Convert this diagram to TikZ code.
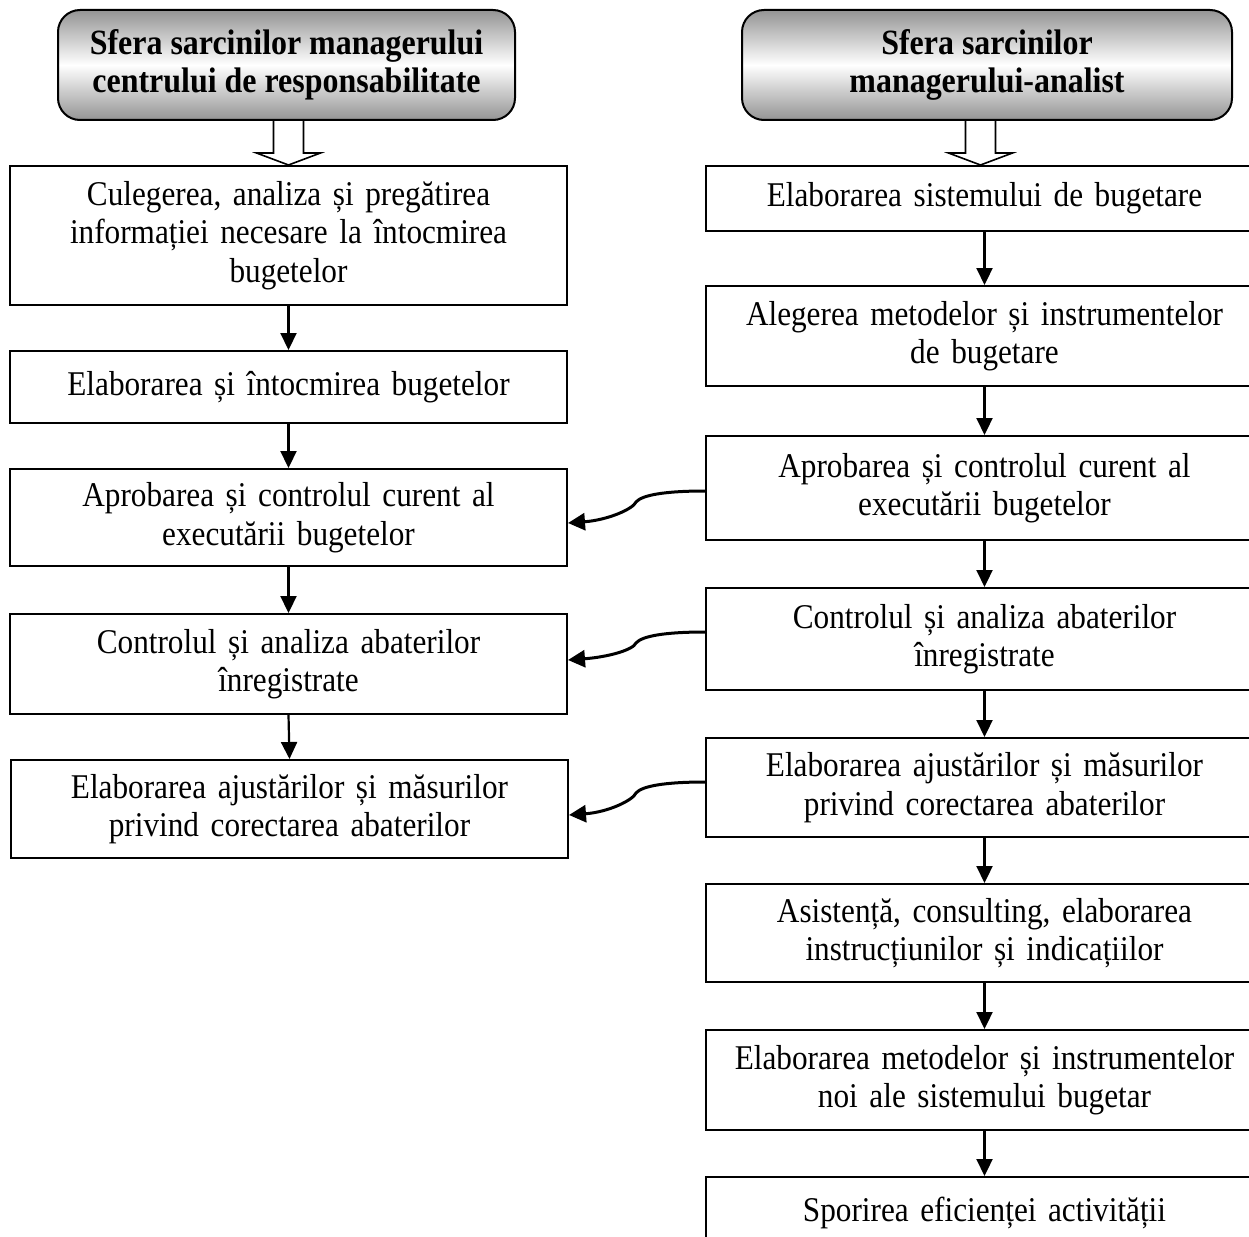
\documentclass[tikz,border=0pt]{standalone}
\usepackage{fontspec}
\setmainfont{Liberation Serif}[FakeStretch=0.9]
\usetikzlibrary{arrows.meta,calc}
\begin{document}
\begin{tikzpicture}[x=1pt,y=-1pt,
  box/.style={draw, line width=2pt, minimum width=557pt, text width=545pt,
    align=center, inner sep=0pt, font=\fontsize{34.7}{38.5}\selectfont},
  head/.style={draw, line width=2pt, rounded corners=22pt,
    top color=black!42, bottom color=black!42, middle color=white,
    align=center, inner sep=0pt, font=\fontsize{35.5}{37.5}\selectfont\bfseries},
  flow/.style={line width=2.2pt, -{Triangle[length=17pt,width=16pt]}},
  side/.style={line width=3pt, -{Triangle[length=17pt,width=17pt]}},
  hollow/.style={draw, line width=1.6pt, fill=white}]
\useasboundingbox (0,0) rectangle (1249,1236);

% left column
\node[box, minimum height=139pt] (L1) at (288.5,235.5)
  {Culegerea, analiza și pregătirea\\informației necesare la întocmirea\\bugetelor};
\node[box, minimum height=72pt] (L2) at (288.5,387)
  {Elaborarea și întocmirea bugetelor};
\node[box, minimum height=97pt] (L3) at (288.5,517.5)
  {Aprobarea și controlul curent al\\executării bugetelor};
\node[box, minimum height=100pt] (L4) at (288.5,664)
  {Controlul și analiza abaterilor\\înregistrate};
\node[box, minimum height=98pt] (L5) at (289.5,809)
  {Elaborarea ajustărilor și măsurilor\\privind corectarea abaterilor};

% right column
\node[box, minimum height=65pt] (R1) at (984.5,198.5)
  {Elaborarea sistemului de bugetare};
\node[box, minimum height=100pt] (R2) at (984.5,336)
  {Alegerea metodelor și instrumentelor\\de bugetare};
\node[box, minimum height=104pt] (R3) at (984.5,488)
  {Aprobarea și controlul curent al\\executării bugetelor};
\node[box, minimum height=102pt] (R4) at (984.5,639)
  {Controlul și analiza abaterilor\\înregistrate};
\node[box, minimum height=99pt] (R5) at (984.5,787.5)
  {Elaborarea ajustărilor și măsurilor\\privind corectarea abaterilor};
\node[box, minimum height=98pt] (R6) at (984.5,933)
  {Asistență, consulting, elaborarea\\instrucțiunilor și indicațiilor};
\node[box, minimum height=100pt] (R7) at (984.5,1080)
  {Elaborarea metodelor și instrumentelor\\noi ale sistemului bugetar};
\node[box, minimum height=72pt] (R8) at (984.5,1213)
  {Sporirea eficienței activității};

% hollow arrows from the headers
\coordinate (tl) at (L1.north);
\coordinate (tr) at ($(R1.north)+(-4,0)$);
\coordinate (hlb) at (286.5,120);
\coordinate (hrb) at (987,120);
\draw[hollow] ($(hlb -| tl)+(-15,0)$) -- ($(tl)+(-15,-12)$) -- ($(tl)+(-32,-12)$)
  -- (tl) -- ($(tl)+(32,-12)$) -- ($(tl)+(15,-12)$) -- ($(hlb -| tl)+(15,0)$);
\draw[hollow] ($(hrb -| tr)+(-15,0)$) -- ($(tr)+(-15,-12)$) -- ($(tr)+(-32,-12)$)
  -- (tr) -- ($(tr)+(32,-12)$) -- ($(tr)+(15,-12)$) -- ($(hrb -| tr)+(15,0)$);

% headers
\node[head, minimum width=457pt, minimum height=110pt] (HL) at (286.5,65)
  {Sfera sarcinilor managerului\\centrului de responsabilitate};
\node[head, minimum width=490pt, minimum height=110pt] (HR) at (987,65)
  {Sfera sarcinilor\\managerului-analist};

% vertical flow
\foreach \a/\b in {L1/L2,L2/L3,L3/L4,L4/L5,R1/R2,R2/R3,R3/R4,R4/R5,R5/R6,R6/R7,R7/R8}
  \draw[flow] (\a.south) -- (\b.north);

% links from the right column to the left one
\coordinate (s1) at ($(R3.west)+(0,3)$);
\coordinate (e1) at ($(L3.east)+(0,5.5)$);
\coordinate (s2) at ($(R4.west)+(0,-7)$);
\coordinate (e2) at ($(L4.east)+(0,-4)$);
\coordinate (s3) at ($(R5.west)+(0,-5.5)$);
\coordinate (e3) at ($(L5.east)+(0,6)$);
\foreach \s/\e in {s1/e1,s2/e2,s3/e3}
  \draw[side] (\s) .. controls +(-40,0) and +(6,-7) .. ($(\s)+(-69,11)$)
    .. controls +(-3,7) and +(40,-3) .. (\e);
\end{tikzpicture}
\end{document}
